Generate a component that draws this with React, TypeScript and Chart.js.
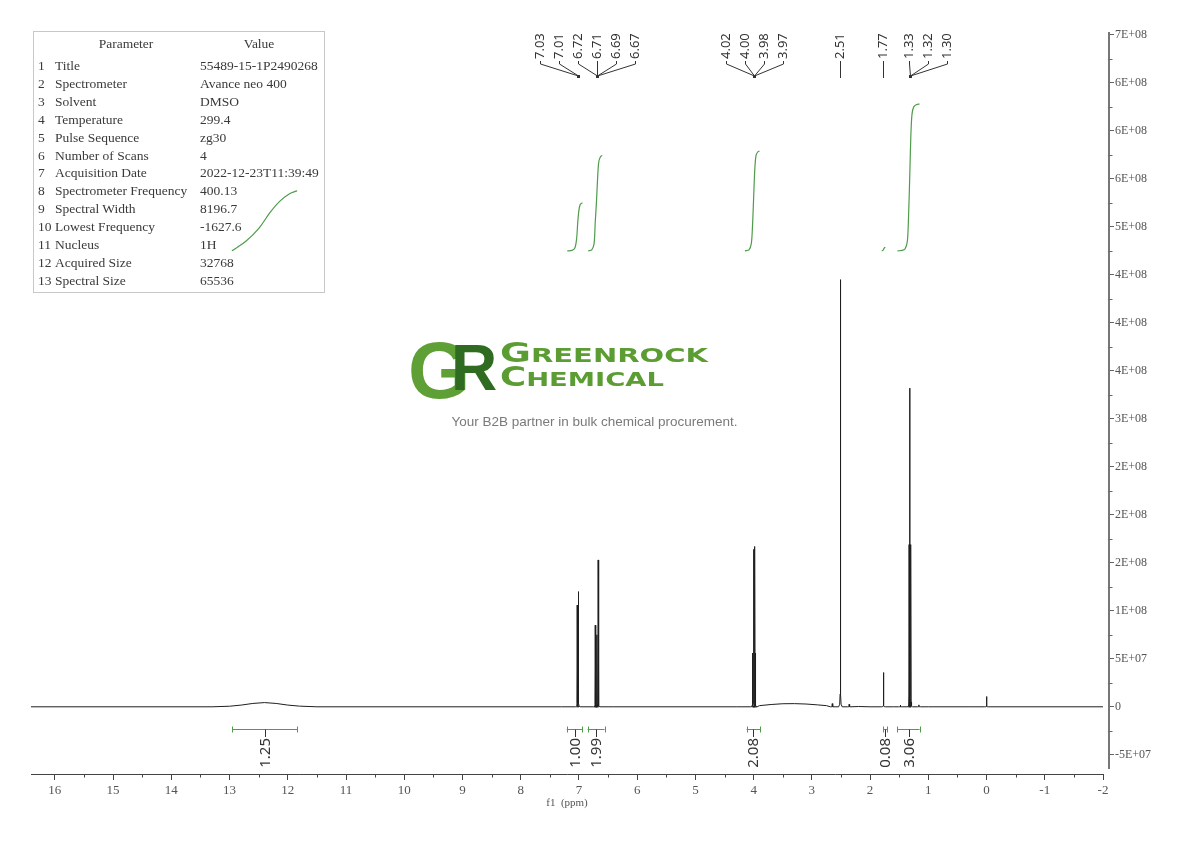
import { useEffect, useRef } from "react"
import { Chart, registerables } from "chart.js"

Chart.register(...registerables)

// parameter table
const paramNames = [
  "Title", "Spectrometer", "Solvent", "Temperature", "Pulse Sequence", "Number of Scans",
  "Acquisition Date", "Spectrometer Frequency", "Spectral Width", "Lowest Frequency",
  "Nucleus", "Acquired Size", "Spectral Size",
]
const paramValues = [
  "55489-15-1P2490268", "Avance neo 400", "DMSO", "299.4", "zg30", "4",
  "2022-12-23T11:39:49", "400.13", "8196.7", "-1627.6", "1H", "32768", "65536",
]

// spectrum: slow baseline (broad humps) in ppm / intensity
const baselinePpm = [16.41, 13.3, 13.0, 12.8, 12.6, 12.4, 12.2, 12.0, 11.8, 11.5, 7.3, 6.4, 4.3, 3.9, 3.7, 3.5, 3.3, 3.1, 2.9, 2.75, 2.2, 2.0, 1.6, 1.0, 0.3, -0.3, -2.0]
const baselineInt = [0, 0, 6e5, 1.8e6, 3.5e6, 4.4e6, 3.5e6, 1.8e6, 7e5, 0, 0, 0, 0, 1.2e6, 2.4e6, 3.2e6, 3.3e6, 2.9e6, 2.0e6, 1.2e6, 3e5, 0, 0, 0, 0, 0, 0]

// sharp lines
const linePpm = [7.03, 7.01, 6.72, 6.71, 6.69, 6.67, 4.02, 4.0, 3.98, 3.97, 2.65, 2.51, 2.36, 1.77, 1.48, 1.33, 1.32, 1.3, 1.16, 0.0]
const lineInt = [1.06e8, 1.2e8, 8.5e7, 6.0e7, 7.5e7, 1.53e8, 5.6e7, 1.64e8, 1.67e8, 5.6e7, 3.3e6, 4.45e8, 2.6e6, 3.57e7, 1.8e6, 1.69e8, 3.32e8, 1.69e8, 2.0e6, 1.07e7]

// peak picking labels, grouped by multiplet
const multiplets = [
  ["7.03", "7.01"],
  ["6.72", "6.71", "6.69", "6.67"],
  ["4.02", "4.00", "3.98", "3.97"],
  ["2.51"],
  ["1.77"],
  ["1.33", "1.32", "1.30"],
]

// integrals
const intFrom = [12.95, 7.21, 6.85, 4.12, 1.77, 1.53]
const intTo = [11.84, 6.94, 6.56, 3.89, 1.71, 1.15]
const intLabels = ["1.25", "1.00", "1.99", "2.08", "0.08", "3.06"]

// integral curves (ppm, cumulative integral)
const intCurvePpm = [
  [12.96, 12.72, 12.49, 12.31, 12.14, 11.97, 11.84],
  [7.2, 7.12, 7.07, 7.04, 7.02, 7.0, 6.98, 6.96, 6.94],
  [6.84, 6.78, 6.74, 6.72, 6.7, 6.68, 6.66, 6.63, 6.6],
  [4.15, 4.08, 4.04, 4.02, 4.0, 3.98, 3.96, 3.93, 3.9],
  [1.8, 1.78, 1.76, 1.74],
  [1.53, 1.45, 1.4, 1.36, 1.34, 1.32, 1.3, 1.28, 1.25, 1.2, 1.15],
]
const intCurveVal = [
  [0, 0.2, 0.48, 0.79, 1.03, 1.19, 1.25],
  [0, 0.01, 0.06, 0.25, 0.6, 0.85, 0.96, 0.99, 1.0],
  [0, 0.02, 0.15, 0.6, 1.0, 1.5, 1.85, 1.96, 1.99],
  [0, 0.02, 0.15, 0.5, 1.1, 1.7, 1.98, 2.06, 2.08],
  [0, 0.01, 0.05, 0.08],
  [0, 0.01, 0.04, 0.2, 0.7, 1.5, 2.4, 2.85, 3.0, 3.05, 3.06],
]

// right axis ticks
const yTickValues = [-5e7, 0, 5e7, 1e8, 1.5e8, 2e8, 2.5e8, 3e8, 3.5e8, 4e8, 4.5e8, 5e8, 5.5e8, 6e8, 6.5e8, 7e8]
const yTickLabels = ["-5E+07", "0", "5E+07", "1E+08", "2E+08", "2E+08", "2E+08", "3E+08", "4E+08", "4E+08", "4E+08", "5E+08", "6E+08", "6E+08", "6E+08", "7E+08"]

const GREEN = "#4f9c4a"
const INK = "#333"
const SERIF = '"Liberation Serif", "DejaVu Serif", serif'
const SANS = '"Noto Sans", "Open Sans", sans-serif'

// line shape of one sharp peak: [ppm offset, fraction of height]
const SHAPE = [[0.03, 0], [0.012, 0.006], [0.005, 0.03], [0, 1], [-0.005, 0.03], [-0.012, 0.006], [-0.03, 0]]

function buildSpectrum() {
  const segs: { key: number; pts: { x: number; y: number }[] }[] = []
  baselinePpm.forEach((p, i) => segs.push({ key: p, pts: [{ x: p, y: baselineInt[i] }] }))
  linePpm.forEach((p, i) =>
    segs.push({ key: p, pts: SHAPE.map(([d, f]) => ({ x: p + d, y: f * lineInt[i] })) })
  )
  segs.sort((a, b) => b.key - a.key)
  return segs.flatMap((s) => s.pts)
}

const avg = (a: number[]) => a.reduce((s, v) => s + v, 0) / a.length

const overlayPlugin = {
  id: "nmrOverlay",
  beforeDatasetsDraw(chart: any) {
    const ctx = chart.ctx as CanvasRenderingContext2D
    const x = chart.scales.x
    const area = chart.chartArea
    ctx.save()
    // axis lines (x stops at -2, y stops short of the x axis)
    ctx.strokeStyle = "#444"
    ctx.lineWidth = 1
    ctx.beginPath()
    ctx.moveTo(area.left, area.bottom + 0.5)
    ctx.lineTo(x.getPixelForValue(-2) + 0.5, area.bottom + 0.5)
    ctx.stroke()
    ctx.strokeStyle = "#777"
    ctx.lineWidth = 2
    ctx.beginPath()
    ctx.moveTo(area.right, area.top)
    ctx.lineTo(area.right, area.bottom - 5)
    ctx.stroke()

    // watermark logo
    ctx.textBaseline = "alphabetic"
    ctx.textAlign = "left"
    ctx.fillStyle = "#5ea036"
    ctx.font = 'bold 80px "Liberation Sans", sans-serif'
    ctx.fillText("G", 408, 398)
    ctx.fillStyle = "#2f6b21"
    ctx.font = 'bold 64px "Liberation Sans", sans-serif'
    ctx.fillText("R", 451, 390)

    const wide = (big: string, rest: string, x0: number, y0: number, target: number) => {
      ctx.font = 'bold 26px "DejaVu Sans", sans-serif'
      const wb = ctx.measureText(big).width
      ctx.font = 'bold 20px "DejaVu Sans", sans-serif'
      const wr = ctx.measureText(rest).width
      const s = target / (wb + wr)
      ctx.save()
      ctx.translate(x0, y0)
      ctx.scale(s, 1)
      ctx.fillStyle = "#5c9d33"
      ctx.font = 'bold 26px "DejaVu Sans", sans-serif'
      ctx.fillText(big, 0, 0)
      ctx.font = 'bold 20px "DejaVu Sans", sans-serif'
      ctx.fillText(rest, wb, 0)
      ctx.restore()
    }
    wide("G", "REENROCK", 500, 362, 208)
    wide("C", "HEMICAL", 500, 386, 164)

    ctx.fillStyle = "#7a7a7a"
    ctx.font = '13.5px "Liberation Sans", Arial, sans-serif'
    ctx.textAlign = "center"
    ctx.fillText("Your B2B partner in bulk chemical procurement.", 594.5, 426)
    ctx.restore()
  },
  afterDraw(chart: any) {
    const ctx = chart.ctx as CanvasRenderingContext2D
    const x = chart.scales.x
    const y = chart.scales.y
    const area = chart.chartArea
    ctx.save()

    // minor ticks
    ctx.strokeStyle = "#444"
    ctx.lineWidth = 1
    ctx.beginPath()
    for (let v = -1.5; v < 16.41; v += 1) {
      const px = Math.round(x.getPixelForValue(v)) + 0.5
      ctx.moveTo(px, area.bottom)
      ctx.lineTo(px, area.bottom + 3.5)
    }
    ctx.stroke()
    ctx.strokeStyle = "#666"
    ctx.beginPath()
    for (let i = 0; i < yTickValues.length - 1; i++) {
      const py = Math.round(y.getPixelForValue((yTickValues[i] + yTickValues[i + 1]) / 2)) + 0.5
      ctx.moveTo(area.right, py)
      ctx.lineTo(area.right + 3.5, py)
    }
    ctx.stroke()

    // axis title
    ctx.fillStyle = "#555"
    ctx.font = `11px ${SERIF}`
    ctx.textAlign = "center"
    ctx.textBaseline = "middle"
    const mid = (area.left + x.getPixelForValue(-2)) / 2
    ctx.fillText("f1  (ppm)", mid, 803)

    // peak labels
    const SP = 19
    type Cl = { items: { label: string; px: number }[]; centers: number[]; start: number }
    const clusters: Cl[] = []
    for (const m of multiplets) {
      const c = x.getPixelForValue(avg(m.map(Number)))
      const cl: Cl = { items: m.map((l) => ({ label: l, px: c })), centers: [c], start: c - ((m.length - 1) / 2) * SP }
      const prev = clusters[clusters.length - 1]
      if (prev) {
        const prevEnd = prev.start + (prev.items.length - 1) * SP
        if (cl.start < prevEnd + SP) {
          if (c - prev.centers[prev.centers.length - 1] < 22) {
            prev.items.push(...cl.items)
            prev.centers.push(c)
            prev.start = avg(prev.centers) - ((prev.items.length - 1) / 2) * SP
            continue
          }
          cl.start = prevEnd + 26
        }
      }
      clusters.push(cl)
    }
    ctx.strokeStyle = INK
    ctx.fillStyle = INK
    ctx.lineWidth = 1
    ctx.font = `13px ${SANS}`
    ctx.textAlign = "left"
    ctx.textBaseline = "middle"
    for (const cl of clusters) {
      cl.items.forEach((it, i) => {
        const lx = Math.round(cl.start + i * SP) + 0.5
        const px = Math.round(it.px) + 0.5
        ctx.save()
        ctx.translate(lx, 59)
        ctx.rotate(-Math.PI / 2)
        ctx.fillText(it.label, 0, 0)
        ctx.restore()
        ctx.beginPath()
        ctx.moveTo(lx, 61)
        ctx.lineTo(lx, 64)
        ctx.lineTo(px, 76)
        ctx.lineTo(px, 78)
        ctx.stroke()
      })
      const seen = new Set<number>()
      cl.items.forEach((it) => {
        const px = Math.round(it.px)
        if (seen.has(px)) return
        seen.add(px)
        if (cl.items.filter((o) => Math.round(o.px) === px).length > 1) ctx.fillRect(px - 1, 75, 3, 3)
      })
    }

    // integral brackets
    const by = 729.5
    intLabels.forEach((lab, i) => {
      const x1 = x.getPixelForValue(intFrom[i])
      const x2 = x.getPixelForValue(intTo[i])
      const c = Math.round((x1 + x2) / 2) + 0.5
      ctx.strokeStyle = GREEN
      ctx.beginPath()
      ctx.moveTo(x1, by)
      ctx.lineTo(x2, by)
      ctx.moveTo(Math.round(x1) + 0.5, by - 3)
      ctx.lineTo(Math.round(x1) + 0.5, by + 3)
      ctx.moveTo(Math.round(x2) + 0.5, by - 3)
      ctx.lineTo(Math.round(x2) + 0.5, by + 3)
      ctx.stroke()
      ctx.strokeStyle = INK
      ctx.beginPath()
      ctx.moveTo(c, by)
      ctx.lineTo(c, 737)
      ctx.stroke()
      ctx.save()
      ctx.translate(c, 738)
      ctx.rotate(-Math.PI / 2)
      ctx.fillStyle = INK
      ctx.font = `15px ${SANS}`
      ctx.textAlign = "right"
      ctx.textBaseline = "middle"
      ctx.fillText(lab, 0, 0)
      ctx.restore()
    })
    ctx.restore()
  },
}

function NmrChart() {
  const chartRef = useRef<HTMLCanvasElement>(null)
  const chartInstance = useRef<Chart | null>(null)

  useEffect(() => {
    if (!chartRef.current) return
    if (chartInstance.current) chartInstance.current.destroy()
    const ctx = chartRef.current.getContext("2d")
    if (!ctx) return

    const integralSets = intCurvePpm.map((ppm, k) => ({
      data: ppm.map((p, i) => ({ x: p, y: intCurveVal[k][i] })),
      yAxisID: "y2",
      borderColor: GREEN,
      borderWidth: 1.2,
      pointRadius: 0,
      showLine: true,
      tension: 0.3,
    }))

    chartInstance.current = new Chart(ctx, {
      type: "scatter",
      data: {
        datasets: [
          {
            data: buildSpectrum(),
            yAxisID: "y",
            borderColor: "#1e1e1e",
            borderWidth: 1,
            pointRadius: 0,
            showLine: true,
            tension: 0,
          },
          ...integralSets,
        ],
      },
      options: {
        responsive: false,
        animation: false,
        events: [],
        layout: { padding: { left: 31, top: 32, right: 0, bottom: 0 } },
        plugins: { legend: { display: false }, tooltip: { enabled: false } },
        scales: {
          x: {
            type: "linear",
            reverse: true,
            min: -2.103,
            max: 16.41,
            position: "bottom",
            ticks: {
              stepSize: 1,
              includeBounds: false,
              autoSkip: false,
              maxRotation: 0,
              padding: 3,
              color: "#555",
              font: { family: SERIF, size: 13 },
              callback: (v: any) => String(v),
            },
            grid: { drawOnChartArea: false, tickLength: 6, color: "#444" },
            border: { display: false },
            afterFit: (s: any) => {
              s.height = 67
            },
          },
          y: {
            type: "linear",
            position: "right",
            min: -7.0e7,
            max: 7.03e8,
            afterBuildTicks: (s: any) => {
              s.ticks = yTickValues.map((v) => ({ value: v }))
            },
            ticks: {
              padding: 1,
              color: "#555",
              font: { family: SERIF, size: 12 },
              callback: (v: any) => yTickLabels[yTickValues.indexOf(v)] ?? "",
            },
            grid: { drawOnChartArea: false, tickLength: 5, color: "#666" },
            border: { display: false },
            afterFit: (s: any) => {
              s.width = 81
            },
          },
          y2: { type: "linear", display: false, min: -10.9, max: 4.56 },
        },
      },
      plugins: [overlayPlugin],
    } as any)

    return () => {
      if (chartInstance.current) {
        chartInstance.current.destroy()
        chartInstance.current = null
      }
    }
  }, [])

  return <canvas ref={chartRef} width={1190} height={841} style={{ display: "block" }} />
}

function ParamTable() {
  const rowTop = (i: number) => 25 + 17.9 * i
  const font = { fontFamily: SERIF, fontSize: 13.5, color: "#3a3a3a", lineHeight: "18px" }
  return (
    <div
      style={{
        position: "absolute",
        left: 33,
        top: 31,
        width: 292,
        height: 262,
        border: "1px solid #c8c8c8",
        boxSizing: "border-box",
        ...font,
      }}
    >
      <div style={{ position: "absolute", top: 3, left: 0, width: 184, textAlign: "center" }}>Parameter</div>
      <div style={{ position: "absolute", top: 3, left: 166, width: 118, textAlign: "center" }}>Value</div>
      {paramNames.map((n, i) => (
        <div key={n} style={{ position: "absolute", top: rowTop(i), left: 0, width: 290, height: 18, whiteSpace: "nowrap" }}>
          <span style={{ position: "absolute", left: 4 }}>{i + 1}</span>
          <span style={{ position: "absolute", left: 21 }}>{n}</span>
          <span style={{ position: "absolute", left: 166 }}>{paramValues[i]}</span>
        </div>
      ))}
    </div>
  )
}

export default function App() {
  return (
    <div style={{ position: "absolute", left: 0, top: 0, width: 1190, height: 841, background: "#fff" }}>
      <NmrChart />
      <ParamTable />
    </div>
  )
}
